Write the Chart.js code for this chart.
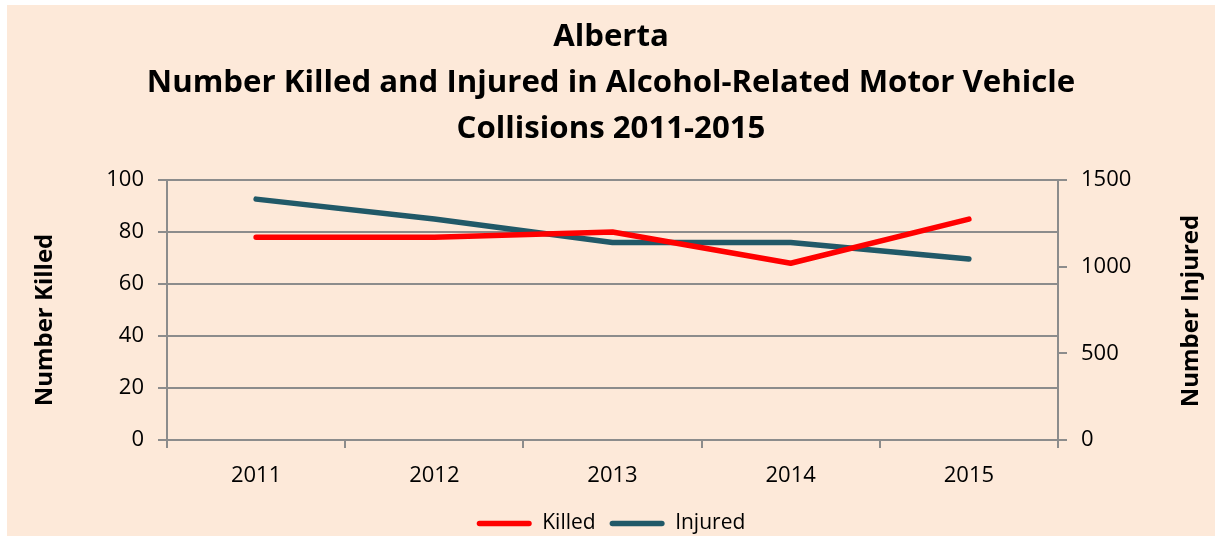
<!DOCTYPE html>
<html>
<head>
<meta charset="utf-8">
<script src="https://cdn.jsdelivr.net/npm/chart.js@4/dist/chart.umd.min.js"></script>
<style>
  html, body { margin: 0; padding: 0; background: #ffffff; }
  #wrap { position: absolute; left: 7px; top: 5px; width: 1208px; height: 531px; background: #FDE9D9; overflow: hidden; }
  canvas { display: block; }
</style>
</head>
<body>
<div id="wrap"><canvas id="c" width="1208" height="531"></canvas></div>
<script>
const years = ['2011', '2012', '2013', '2014', '2015'];
const killed = [78, 78, 80, 68, 85];
const injured = [1390, 1275, 1140, 1140, 1045];
const titleLines = ['Alberta', 'Number Killed and Injured in Alcohol-Related Motor Vehicle', 'Collisions 2011-2015'];
const leftAxisTitle = 'Number Killed';
const rightAxisTitle = 'Number Injured';

const FONT = "'Open Sans', 'Liberation Sans', sans-serif";
const gridColor = '#8C8C8C';

const axisTitles = {
  id: 'axisTitles',
  afterDraw(chart) {
    const ctx = chart.ctx;
    const a = chart.chartArea;
    const cy = (a.top + a.bottom) / 2;
    ctx.save();
    ctx.fillStyle = '#000';
    ctx.font = "bold 24px " + FONT;
    ctx.textAlign = 'center';
    ctx.textBaseline = 'middle';
    ctx.save();
    ctx.translate(38, cy + 10);
    ctx.rotate(-Math.PI / 2);
    ctx.fillText(leftAxisTitle, 0, 0);
    ctx.restore();
    ctx.save();
    ctx.translate(chart.width - 23.5, cy + 1);
    ctx.rotate(-Math.PI / 2);
    ctx.fillText(rightAxisTitle, 0, 0);
    ctx.restore();
    ctx.restore();
  }
};

new Chart(document.getElementById('c'), {
  type: 'line',
  data: {
    labels: years,
    datasets: [
      { label: 'Killed', data: killed, yAxisID: 'y', borderColor: '#FF0000', backgroundColor: '#FF0000',
        borderWidth: 5.5, pointRadius: 0, borderCapStyle: 'round', borderJoinStyle: 'round', tension: 0 },
      { label: 'Injured', data: injured, yAxisID: 'y1', borderColor: '#215968', backgroundColor: '#215968',
        borderWidth: 5.5, pointRadius: 0, borderCapStyle: 'round', borderJoinStyle: 'round', tension: 0 }
    ]
  },
  plugins: [axisTitles],
  options: {
    responsive: false,
    animation: false,
    layout: { padding: { left: 0, right: 0, top: 0, bottom: -8 } },
    plugins: {
      title: {
        display: true,
        text: titleLines,
        color: '#000',
        font: { family: FONT, size: 31.2, weight: 'bold', lineHeight: 1.475 },
        padding: { top: 9, bottom: 28 }
      },
      legend: {
        position: 'bottom',
        labels: {
          color: '#000',
          font: { family: FONT, size: 21 },
          boxWidth: 55,
          boxHeight: 5.5,
          padding: 14,
          useBorderRadius: true,
          borderRadius: 2.75,
          generateLabels: (chart) => Chart.defaults.plugins.legend.labels.generateLabels(chart)
            .map(item => Object.assign(item, { lineWidth: 0 }))
        }
      },
      tooltip: { enabled: false }
    },
    scales: {
      x: {
        offset: true,
        grid: { display: true, offset: true, drawOnChartArea: false, color: gridColor, lineWidth: 2, tickLength: 8 },
        border: { display: true, color: gridColor, width: 2 },
        ticks: { color: '#000', font: { family: FONT, size: 22 }, padding: 14.5, maxRotation: 0 },
        afterFit: (s) => { s.height = 59; }
      },
      y: {
        position: 'left',
        min: 0, max: 100,
        ticks: { stepSize: 20, color: '#000', font: { family: FONT, size: 22 }, padding: 14 },
        grid: { color: gridColor, lineWidth: 2, tickLength: 9 },
        border: { display: true, color: gridColor, width: 2 },
        afterFit: (s) => { s.width = 160; }
      },
      y1: {
        position: 'right',
        min: 0, max: 1500,
        ticks: { stepSize: 500, color: '#000', font: { family: FONT, size: 22 }, padding: 14,
                 callback: (v) => String(v) },
        grid: { drawOnChartArea: false, color: gridColor, lineWidth: 2, tickLength: 9 },
        border: { display: true, color: gridColor, width: 2 },
        afterFit: (s) => { s.width = 157; }
      }
    }
  }
});
</script>
</body>
</html>
